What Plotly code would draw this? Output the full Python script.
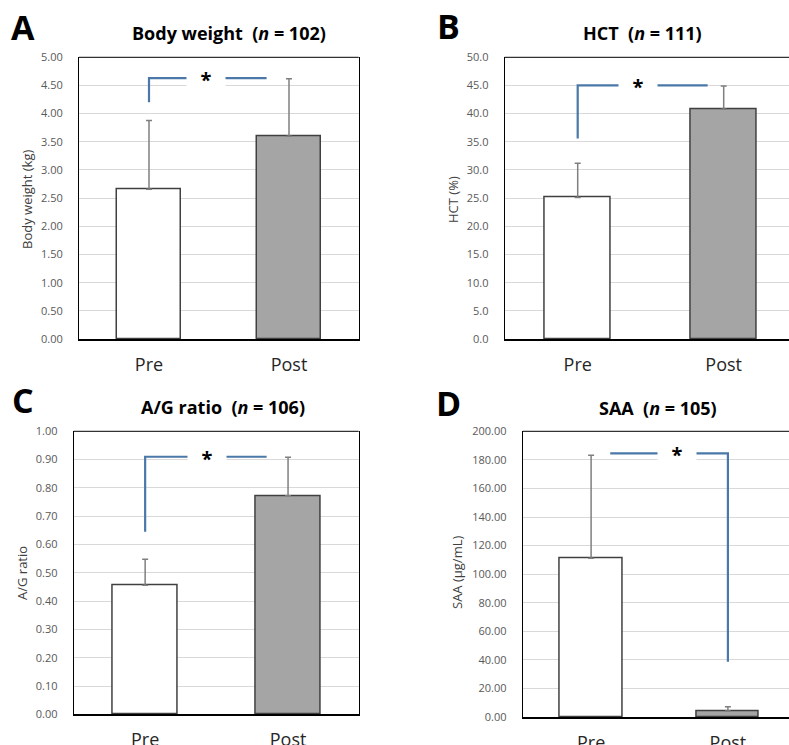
import plotly.graph_objects as go

W, H = 789, 745
FONT = "Open Sans"

categories = ["Pre", "Post"]

# Panel data
titles = ["Body weight", "HCT", "A/G ratio", "SAA"]
n_values = [102, 111, 106, 105]
letters = ["A", "B", "C", "D"]
ytitles = ["Body weight (kg)", "HCT (%)", "A/G ratio", "SAA (µg/mL)"]

bw_mean = [2.66, 3.60]
bw_sd = [1.22, 1.02]
hct_mean = [25.1, 40.8]
hct_sd = [6.1, 4.1]
ag_mean = [0.456, 0.772]
ag_sd = [0.092, 0.136]
saa_mean = [111.1, 4.2]
saa_sd = [72.1, 3.0]

y_max = [5.0, 50.0, 1.0, 200.0]
y_dtick = [0.5, 5.0, 0.1, 20.0]
y_fmt = [".2f", ".1f", ".2f", ".2f"]

# significance brackets (x in category units, y in data units)
br_x = [[0, 0, 0.84], [0, 0, 0.89], [0, 0, 0.85], [0.14, 1, 1]]
br_y = [[4.20, 4.63, 4.63], [35.6, 45.0, 45.0], [0.645, 0.91, 0.91], [184.6, 184.6, 38.7]]
star_x = [0.406, 0.41, 0.433, 0.63]

means = [bw_mean, hct_mean, ag_mean, saa_mean]
sds = [bw_sd, hct_sd, ag_sd, saa_sd]

# layout geometry (pixels)
px_left = [79, 504.7, 73.7, 522.7]
px_right = [358.7, 789, 358.7, 789]
px_top = [57.3, 57.3, 431.3, 431.3]
px_bot = [339, 339, 714.3, 717]
cat_step = [140, 146, 142.9, 136.8]
mirror_right = [True, False, True, False]

letter_pos = [(23, 27), (448, 26), (23, 400), (448, 403)]
title_pos = [(229, 33), (642, 33), (223, 407), (658, 408)]
ytitle_pos = [(27, 200), (453, 200), (22, 573), (457, 573)]

fig = go.Figure()
shapes = []
annotations = []

for i in range(4):
    ax = "" if i == 0 else str(i + 1)
    xa, ya = "x" + ax, "y" + ax
    fig.add_trace(go.Bar(
        x=[0, 1], y=means[i], width=0.455,
        marker=dict(color=["#ffffff", "#a5a5a5"], line=dict(color="#404040", width=1.5)),
        error_y=dict(type="data", array=sds[i], arrayminus=[0, 0], symmetric=False,
                     color="#7f7f7f", thickness=1.5, width=3),
        xaxis=xa, yaxis=ya, showlegend=False, hoverinfo="skip"))
    fig.add_trace(go.Scatter(
        x=br_x[i], y=br_y[i], mode="lines",
        line=dict(color="#4a78a8", width=2.2),
        xaxis=xa, yaxis=ya, showlegend=False, hoverinfo="skip", cliponaxis=False))

    x0 = px_left[i] / W
    x1 = px_right[i] / W
    y0 = (H - px_bot[i]) / H
    y1 = (H - px_top[i]) / H
    xr_max = -0.5 + (px_right[i] - px_left[i]) / cat_step[i]
    fig.update_layout(**{
        "xaxis" + ax: dict(domain=[x0, x1], range=[-0.5, xr_max], anchor=ya,
                           tickvals=[0, 1], ticktext=categories,
                           tickfont=dict(family=FONT, size=18, color="#262626"),
                           showline=True, linecolor="#000000", linewidth=2,
                           ticks="outside", ticklen=8, tickcolor="rgba(0,0,0,0)",
                           showgrid=False, zeroline=False, fixedrange=True,
                           automargin=False, layer="above traces"),
        "yaxis" + ax: dict(domain=[y0, y1], range=[0, y_max[i]], anchor=xa,
                           dtick=y_dtick[i], tick0=0, tickformat=y_fmt[i],
                           tickfont=dict(family=FONT, size=11, color="#595959"),
                           showline=True, linecolor="#000000", linewidth=1,
                           mirror=mirror_right[i],
                           ticks="outside", ticklen=13, tickcolor="rgba(0,0,0,0)",
                           showgrid=True, gridcolor="#d9d9d9", gridwidth=1,
                           zeroline=False, fixedrange=True, automargin=False),
    })
    shapes.append(dict(type="line", xref="paper", yref="paper",
                       x0=x0, x1=x1 if mirror_right[i] else 1.0, y0=y1, y1=y1,
                       line=dict(color="#000000", width=1)))
    lx, ly = letter_pos[i]
    annotations.append(dict(text="<b>" + letters[i] + "</b>", x=lx / W, y=1 - ly / H,
                            xref="paper", yref="paper", showarrow=False,
                            xanchor="center", yanchor="middle",
                            font=dict(family=FONT, size=34, color="#000000")))
    tx, ty = title_pos[i]
    annotations.append(dict(text="<b>" + titles[i] + "  (<i>n</i> = " + str(n_values[i]) + ")</b>",
                            x=tx / W, y=1 - ty / H, xref="paper", yref="paper", showarrow=False,
                            xanchor="center", yanchor="middle",
                            font=dict(family=FONT, size=18, color="#000000")))
    yx, yy = ytitle_pos[i]
    annotations.append(dict(text=ytitles[i], x=yx / W, y=1 - yy / H, xref="paper", yref="paper",
                            showarrow=False, textangle=-90, xanchor="center", yanchor="middle",
                            font=dict(family=FONT, size=13, color="#404040")))
    annotations.append(dict(text="<b>*</b>", x=star_x[i], y=br_y[i][1], xref=xa, yref=ya,
                            showarrow=False, bgcolor="#ffffff", width=36, height=20,
                            xanchor="center", yanchor="middle", yshift=-1,
                            font=dict(family=FONT, size=20, color="#000000")))

fig.update_layout(template="none", width=W, height=H,
                  margin=dict(l=0, r=0, t=0, b=0, autoexpand=False),
                  paper_bgcolor="#ffffff", plot_bgcolor="#ffffff",
                  shapes=shapes, annotations=annotations, bargap=0)

fig.write_html("out.html", config={"displayModeBar": False},
               post_script="document.body.style.margin='0';document.body.style.overflow='hidden';")
